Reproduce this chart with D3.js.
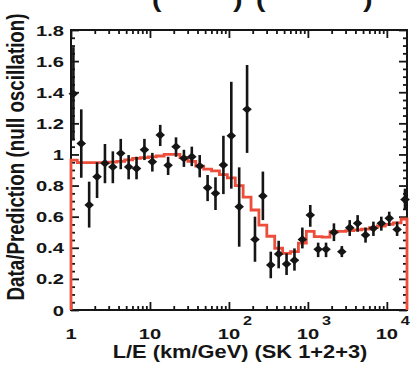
<!DOCTYPE html>
<html>
<head>
<meta charset="utf-8">
<script src="https://cdn.jsdelivr.net/npm/d3@7"></script>
<style>
  html, body { margin: 0; padding: 0; background: #fff; }
  svg { display: block; }
</style>
</head>
<body>
<div id="chart"></div>
<script>
// L/E bin centres (km/GeV)
const leCenters = [1.072, 1.349, 1.698, 2.138, 2.692, 3.388, 4.266, 5.370, 6.761, 8.511,
  10.72, 13.49, 16.98, 21.38, 26.92, 33.88, 42.66, 53.70, 67.61, 85.11,
  107.2, 134.9, 169.8, 213.8, 269.2, 338.8, 426.6, 537.0, 676.1, 851.1,
  1072, 1349, 1698, 2138, 2692, 3388, 4266, 5370, 6761, 8511,
  10720, 13490, 16980];
// data / prediction (null oscillation)
const ratio = [1.39, 1.07, 0.675, 0.857, 0.943, 0.92, 1.007, 0.92, 0.91, 1.03,
  0.953, 1.125, 0.93, 1.05, 0.975, 0.985, 0.925, 0.786, 0.75, 0.932,
  1.12, 0.664, 1.29, 0.454, 0.733, 0.289, 0.36, 0.296, 0.32, 0.454,
  0.61, 0.39, 0.39, 0.50, 0.375, 0.529, 0.557, 0.482, 0.525, 0.557,
  0.59, 0.518, 0.71];
const ratioLow = [1.09, 0.85, 0.53, 0.72, 0.815, 0.815, 0.905, 0.84, 0.84, 0.964,
  0.89, 1.054, 0.868, 0.985, 0.92, 0.925, 0.853, 0.70, 0.643, 0.745,
  0.78, 0.407, 1.01, 0.31, 0.578, 0.204, 0.268, 0.225, 0.253, 0.396,
  0.535, 0.34, 0.34, 0.443, 0.34, 0.476, 0.503, 0.433, 0.476, 0.51,
  0.54, 0.476, 0.643];
const ratioHigh = [1.69, 1.29, 0.825, 0.95, 1.067, 1.02, 1.10, 0.996, 0.985, 1.10,
  1.01, 1.19, 0.985, 1.11, 1.03, 1.05, 0.996, 0.868, 0.853, 1.12,
  1.467, 0.917, 1.575, 0.60, 0.89, 0.375, 0.445, 0.364, 0.396, 0.53,
  0.675, 0.433, 0.433, 0.557, 0.411, 0.578, 0.61, 0.53, 0.568, 0.60,
  0.632, 0.568, 0.78];
// oscillation prediction histogram (same bins)
const prediction = [0.964, 0.947, 0.947, 0.947, 0.947, 0.95, 0.955, 0.965, 0.975, 0.98,
  0.985, 0.99, 1.0, 1.0, 0.98, 0.955, 0.925, 0.905, 0.895, 0.87,
  0.85, 0.80, 0.725, 0.643, 0.546, 0.474, 0.397, 0.364, 0.375, 0.43,
  0.505, 0.472, 0.468, 0.503, 0.505, 0.51, 0.515, 0.52, 0.53, 0.54,
  0.55, 0.56, 0.585];

const yMajorTicks = [0, 0.2, 0.4, 0.6, 0.8, 1, 1.2, 1.4, 1.6, 1.8];
const xDecades = [1, 10, 100, 1000, 10000];
const xTickBase = ["1", "10", "10", "10", "10"];
const xTickExp = ["", "", "2", "3", "4"];
const xTitle = "L/E (km/GeV) (SK 1+2+3)";
const yTitle = "Data/Prediction (null oscillation)";

const width = 412;
const height = 366;
const ink = "#151515";
const red = "#ec4e3b";
const stretch = 1.3; // the original picture has horizontally widened text

const x = d3.scaleLog().domain([1, 18000]).range([71, 407]);
const y = d3.scaleLinear().domain([0, 1.8]).range([310, 30]);

const svg = d3.create("svg")
  .attr("width", width)
  .attr("height", height)
  .style("font-family", "'Liberation Sans', Arial, sans-serif")
  .style("font-weight", "bold");

svg.append("rect").attr("width", width).attr("height", height).attr("fill", "#fff");

// minor tick values
const xMinor = [];
xDecades.forEach((d) => {
  for (let m = 2; m <= 9; m++) if (d * m < x.domain()[1]) xMinor.push(d * m);
});
const yMinor = d3.range(0, 1.8001, 0.05).filter((v) => Math.abs(v * 5 - Math.round(v * 5)) > 1e-6);

const [x0, x1] = x.range();
const [y0, y1] = y.range();

function tickAxis(axis, transform) {
  const g = svg.append("g").attr("transform", transform).call(axis);
  g.select(".domain").remove();
  g.selectAll("line").attr("stroke", ink).attr("stroke-width", 1.8);
  return g;
}

// ticks pointing inward on all four sides
tickAxis(d3.axisBottom(x).tickValues(xMinor).tickSize(-4).tickFormat(""), `translate(0,${y0})`);
tickAxis(d3.axisBottom(x).tickValues(xDecades).tickSize(-8).tickFormat(""), `translate(0,${y0})`);
tickAxis(d3.axisTop(x).tickValues(xMinor).tickSize(-4).tickFormat(""), `translate(0,${y1})`);
tickAxis(d3.axisTop(x).tickValues(xDecades).tickSize(-8).tickFormat(""), `translate(0,${y1})`);
tickAxis(d3.axisLeft(y).tickValues(yMinor).tickSize(-4).tickFormat(""), `translate(${x0},0)`);
tickAxis(d3.axisLeft(y).tickValues(yMajorTicks).tickSize(-8).tickFormat(""), `translate(${x0},0)`);
tickAxis(d3.axisRight(y).tickValues(yMinor).tickSize(-4).tickFormat(""), `translate(${x1},0)`);
tickAxis(d3.axisRight(y).tickValues(yMajorTicks).tickSize(-8).tickFormat(""), `translate(${x1},0)`);

// frame
svg.append("rect")
  .attr("x", x0).attr("y", y1)
  .attr("width", x1 - x0).attr("height", y0 - y1)
  .attr("fill", "none").attr("stroke", ink).attr("stroke-width", 2);

// y tick labels
svg.append("g")
  .selectAll("text")
  .data(yMajorTicks)
  .join("text")
  .attr("transform", (d) => `translate(${x0 - 7},${y(d)}) scale(${stretch},1)`)
  .attr("dy", "0.36em")
  .attr("text-anchor", "end")
  .attr("font-size", 15.5)
  .attr("fill", ink)
  .text((d) => String(+d.toFixed(1)));

// x tick labels with exponents
svg.append("g")
  .selectAll("text")
  .data(xDecades)
  .join("text")
  .attr("transform", (d) => `translate(${x(d)},339) scale(${stretch},1)`)
  .attr("text-anchor", "middle")
  .attr("font-size", 15.5)
  .attr("fill", ink)
  .text((d, i) => xTickBase[i]);
svg.append("g")
  .selectAll("text")
  .data(xDecades.filter((d, i) => xTickExp[i]))
  .join("text")
  .attr("transform", (d) => `translate(${x(d) + 14},325) scale(${stretch},1)`)
  .attr("font-size", 12.5)
  .attr("fill", ink)
  .text((d) => xTickExp[xDecades.indexOf(d)]);

// axis titles
svg.append("text")
  .attr("transform", `translate(240,358) scale(1.18,1)`)
  .attr("text-anchor", "middle")
  .attr("font-size", 18.5)
  .attr("fill", ink)
  .text(xTitle);

svg.append("text")
  .attr("transform", `translate(24,157) rotate(-90) scale(1,${stretch})`)
  .attr("text-anchor", "middle")
  .attr("font-size", 18.8)
  .attr("fill", ink)
  .text(yTitle);

// cut-off title line at the very top (only its parentheses reach into view)
const topParens = [["(", 152], [")", 233], ["(", 256], [")", 363]];
svg.append("g")
  .selectAll("text")
  .data(topParens)
  .join("text")
  .attr("transform", (d) => `translate(${d[1]},7) scale(${stretch},1)`)
  .attr("font-size", 22)
  .attr("fill", ink)
  .text((d) => d[0]);

// prediction histogram (step line) with vertical edges down to zero
const edges = [x.domain()[0]];
for (let i = 1; i < leCenters.length; i++) edges.push(Math.sqrt(leCenters[i - 1] * leCenters[i]));
edges.push(x.domain()[1]);
const histPts = [[edges[0], 0]];
prediction.forEach((v, i) => {
  histPts.push([edges[i], v]);
  histPts.push([edges[i + 1], v]);
});
histPts.push([edges[edges.length - 1], 0]);

svg.append("path")
  .datum(histPts)
  .attr("fill", "none")
  .attr("stroke", red)
  .attr("stroke-width", 2.8)
  .attr("d", d3.line().x((d) => x(d[0])).y((d) => y(d[1])));

// data points with error bars
const pts = leCenters.map((le, i) => ({ le, v: ratio[i], lo: ratioLow[i], hi: ratioHigh[i] }));
const gp = svg.append("g").attr("fill", ink).attr("stroke", ink);
gp.selectAll("line")
  .data(pts)
  .join("line")
  .attr("x1", (d) => x(d.le)).attr("x2", (d) => x(d.le))
  .attr("y1", (d) => y(d.lo)).attr("y2", (d) => y(d.hi))
  .attr("stroke-width", 2.6);
gp.selectAll("path")
  .data(pts)
  .join("path")
  .attr("stroke", "none")
  .attr("d", (d) => {
    const cx = x(d.le), cy = y(d.v);
    return `M${cx - 4.8},${cy} L${cx},${cy - 4.2} L${cx + 4.8},${cy} L${cx},${cy + 4.2} Z`;
  });

document.getElementById("chart").appendChild(svg.node());
</script>
</body>
</html>
